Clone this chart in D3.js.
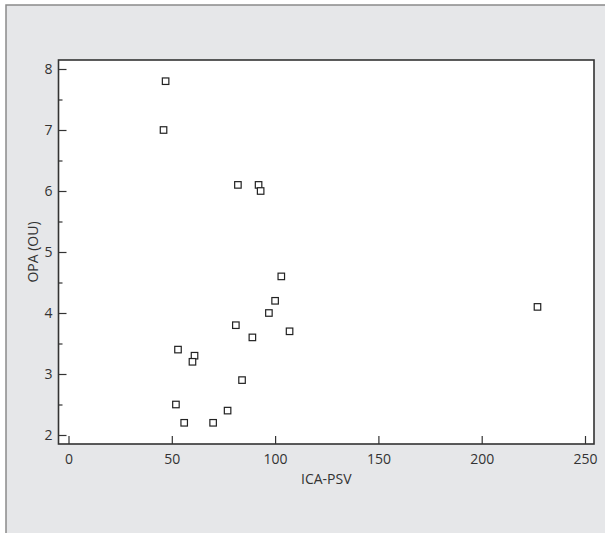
<!DOCTYPE html>
<html lang="en">
<head>
    <meta charset="UTF-8">
    <title>OPA vs ICA-PSV</title>
    <script src="https://d3js.org/d3.v7.min.js"></script>
    <style>
        body {
            margin: 0;
            background: #fff;
        }
        .axis text {
            font-family: 'Open Sans', sans-serif;
            font-size: 14px;
            fill: #333;
        }
        .axis path {
            display: none;
        }
        .axis line {
            stroke: #333;
            stroke-width: 1.2;
        }
        .axis-title {
            font-family: 'Open Sans', sans-serif;
            font-size: 14px;
            fill: #333;
        }
        .point {
            fill: #fff;
            stroke: #222;
            stroke-width: 1.2;
        }
    </style>
</head>
<body>
<script>
    // chart values
    var icaPsv = [47, 46, 82, 92, 93, 103, 100, 97, 81, 107, 89, 53, 61, 60, 84, 52, 77, 56, 70, 227];
    var opa    = [7.8, 7.0, 6.1, 6.1, 6.0, 4.6, 4.2, 4.0, 3.8, 3.7, 3.6, 3.4, 3.3, 3.2, 2.9, 2.5, 2.4, 2.2, 2.2, 4.1];
    var xTicks = [0, 50, 100, 150, 200, 250];
    var yTicks = [2, 3, 4, 5, 6, 7, 8];
    var yMinorTicks = [2.5, 3.5, 4.5, 5.5, 6.5, 7.5];

    var width = 605, height = 533;
    var frame = {left: 58.5, right: 594, top: 60, bottom: 444};

    var svg = d3.select("body").append("svg")
        .attr("width", width)
        .attr("height", height);

    // grey panel with a border on top and left
    svg.append("rect")
        .attr("x", 6).attr("y", 5)
        .attr("width", width).attr("height", height)
        .attr("fill", "#e6e7e9")
        .attr("stroke", "#8a8a8a")
        .attr("stroke-width", 1.5);

    svg.append("rect")
        .attr("x", frame.left).attr("y", frame.top)
        .attr("width", frame.right - frame.left)
        .attr("height", frame.bottom - frame.top)
        .attr("fill", "#fff");

    var xScale = d3.scaleLinear().domain([0, 250]).range([68.5, 585]);
    var yScale = d3.scaleLinear().domain([2, 8]).range([435, 69]);

    // x axis, ticks point inward
    svg.append("g")
        .attr("class", "axis")
        .attr("transform", "translate(0," + frame.bottom + ")")
        .call(d3.axisBottom(xScale)
            .tickValues(xTicks)
            .tickSize(-8)
            .tickPadding(10)
            .tickFormat(d3.format("d")));

    // y axis, major + minor
    svg.append("g")
        .attr("class", "axis")
        .attr("transform", "translate(" + frame.left + ",0)")
        .call(d3.axisLeft(yScale)
            .tickValues(yTicks)
            .tickSize(-8)
            .tickPadding(6)
            .tickFormat(d3.format("d")));

    svg.append("g")
        .attr("class", "axis")
        .attr("transform", "translate(" + frame.left + ",0)")
        .call(d3.axisLeft(yScale)
            .tickValues(yMinorTicks)
            .tickSize(-4)
            .tickFormat(""));

    // frame
    svg.append("rect")
        .attr("x", frame.left).attr("y", frame.top)
        .attr("width", frame.right - frame.left)
        .attr("height", frame.bottom - frame.top)
        .attr("fill", "none")
        .attr("stroke", "#333")
        .attr("stroke-width", 1.6);

    // points
    var pts = icaPsv.map(function(x, i) { return {x: x, y: opa[i]}; });
    var s = 6.5;
    svg.selectAll(".point")
        .data(pts)
        .enter()
        .append("rect")
        .attr("class", "point")
        .attr("x", function(d) { return xScale(d.x) - s / 2; })
        .attr("y", function(d) { return yScale(d.y) - s / 2; })
        .attr("width", s)
        .attr("height", s);

    // axis titles
    svg.append("text")
        .attr("class", "axis-title")
        .attr("text-anchor", "middle")
        .attr("x", (frame.left + frame.right) / 2)
        .attr("y", 484)
        .text("ICA-PSV");

    svg.append("text")
        .attr("class", "axis-title")
        .attr("text-anchor", "middle")
        .attr("transform", "translate(38," + (frame.top + frame.bottom) / 2 + ") rotate(-90)")
        .text("OPA (OU)");
</script>
</body>
</html>
